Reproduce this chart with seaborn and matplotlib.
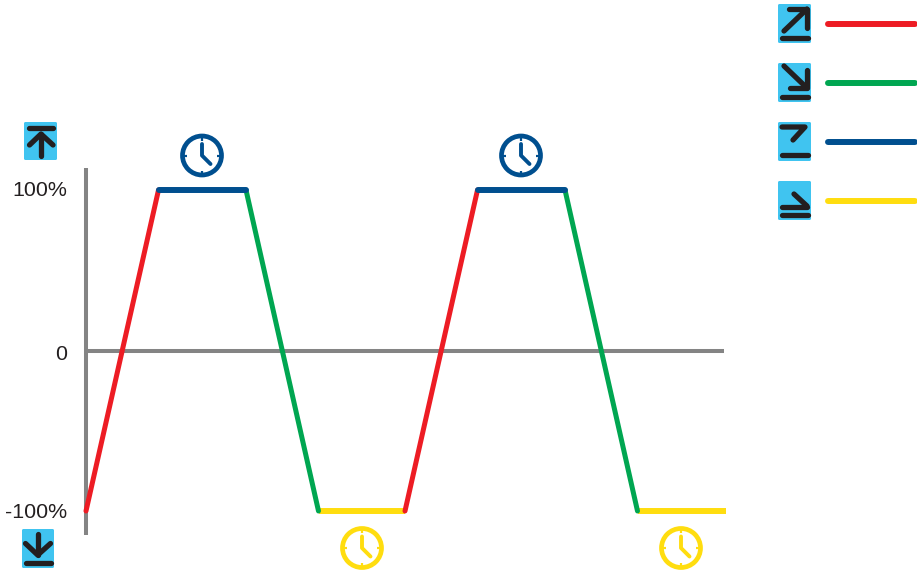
import numpy as np
import pandas as pd
import matplotlib
matplotlib.use("Agg")
import matplotlib.pyplot as plt
from matplotlib.colors import to_rgba
from matplotlib.patches import FancyBboxPatch, Circle
from matplotlib.transforms import ScaledTranslation
import seaborn as sns

# Chart data
times = [0, 72.5, 160, 232.5, 319, 391.5, 479, 551.5, 640]
levels = [-100, 100, 100, -100, -100, 100, 100, -100, -100]
phases = ["up", "hold_high", "down", "hold_low", "up", "hold_high", "down", "hold_low"]
tick_values = [-100, 0, 100]
tick_labels = ["-100%", "0", "100%"]

phase_colors = {"up": "#ed1c24", "down": "#00a651", "hold_high": "#004f8f", "hold_low": "#ffdd0f"}
legend_order = ["up", "down", "hold_high", "hold_low"]

BLACK = "#231f20"
CYAN = "#40c4f0"
GREY = "#848484"

sns.set_theme(style="white")
plt.rcParams["font.family"] = ["Liberation Sans", "DejaVu Sans"]

W, H = 917, 572
fig = plt.figure(figsize=(W / 100, H / 100), dpi=100, facecolor="white")

# main axes placed in pixels: x 86..724, y 168..535
left, right, top, bottom = 86, 724, 168, 535
ax = fig.add_axes([left / W, 1 - bottom / H, (right - left) / W, (bottom - top) / H])
ax.set_xlim(0, right - left)
ax.set_ylim(-100 - (bottom - 511) / 1.605, 100 + (190 - top) / 1.605)
ax.patch.set_alpha(0)

# one row pair per segment so each can have its own colour
rows = []
for i, ph in enumerate(phases):
    rows.append({"time": times[i], "level": levels[i], "phase": ph, "seg": i})
    rows.append({"time": times[i + 1], "level": levels[i + 1], "phase": ph, "seg": i})
df = pd.DataFrame(rows)

sns.lineplot(data=df, x="time", y="level", hue="phase", units="seg", estimator=None,
             palette=phase_colors, hue_order=legend_order, sort=False, legend=False,
             linewidth=3.6, solid_capstyle="round", zorder=3, clip_on=False, ax=ax)

# flat parts are a bit heavier; yellow sits under the green and red ends
for line in ax.get_lines():
    col = to_rgba(line.get_color())
    if col == to_rgba(phase_colors["hold_high"]):
        line.set_linewidth(4.3)
        line.set_zorder(4)
    elif col == to_rgba(phase_colors["hold_low"]):
        line.set_linewidth(4.3)
        line.set_solid_capstyle("butt")
        line.set_zorder(2.8)

sns.despine(ax=ax, top=True, right=True)
for side in ["left", "bottom"]:
    ax.spines[side].set_color(GREY)
    ax.spines[side].set_linewidth(2.9)
    ax.spines[side].set_capstyle("butt")
ax.spines["bottom"].set_position(("data", 0))
ax.set_xticks([])
ax.set_yticks(tick_values)
ax.set_yticklabels(tick_labels, fontsize=15.4, color=BLACK)
ax.tick_params(axis="y", length=0, pad=13.5)
ax.set_xlabel("")
ax.set_ylabel("")

# labels do not sit quite centred on their levels
for label, dy in zip(ax.get_yticklabels(), [1, -2, 2]):
    label.set_transform(label.get_transform() + ScaledTranslation(0, dy / 100, fig.dpi_scale_trans))

# overlay in picture pixels for the icons
ov = fig.add_axes([0, 0, 1, 1])
ov.set_xlim(0, W)
ov.set_ylim(H, 0)
ov.axis("off")
ov.patch.set_alpha(0)


def stroke(xs, ys, color=BLACK, lw=3.8, cap="round"):
    ov.plot(xs, ys, color=color, lw=lw, solid_capstyle=cap, solid_joinstyle="round")


def icon_box(x0, y0, x1, y1):
    ov.add_patch(FancyBboxPatch((x0 + 1.5, y0 + 1.5), x1 - x0 - 3, y1 - y0 - 3,
                                boxstyle="round,pad=1.5", fc=CYAN, ec="none"))


def clock(cx, cy, color):
    ov.add_patch(Circle((cx, cy), 19.5, fc="none", ec=color, lw=3.4))
    stroke([cx, cx, cx + 8.5], [cy - 11.5, cy, cy + 8.5], color=color, lw=2.8)
    for dx, dy in [(0, -1), (0, 1), (1, 0), (-1, 0)]:
        stroke([cx + dx * 18, cx + dx * 15], [cy + dy * 18, cy + dy * 15], color=color, lw=1.6, cap="butt")


# legend icons
icon_box(778, 4, 811, 43)
stroke([782, 808], [37.5, 37.5])
stroke([784, 807], [31, 9])
stroke([789, 807, 807], [9, 9, 28])

icon_box(778, 63, 811, 102)
stroke([784, 807], [66, 88])
stroke([790, 807, 807], [88, 88, 70])
stroke([782, 808], [96.5, 96.5])

icon_box(778, 122, 811, 161)
stroke([782, 805, 793], [127, 127, 140])
stroke([782, 808], [155, 155])

icon_box(778, 181, 811, 220)
stroke([794, 807], [194, 206])
stroke([782, 807], [206.5, 206.5])
stroke([782, 808], [214.5, 214.5])

# legend swatches
for y, name in zip([23.5, 82.5, 141.5, 200.5], legend_order):
    stroke([827.5, 915], [y, y], color=phase_colors[name], lw=4.3)

# axis end icons
icon_box(24, 122, 57, 160)
stroke([29, 53], [127.5, 127.5])
stroke([41, 41], [134, 156])
stroke([29.5, 41, 53], [145, 134, 145])

icon_box(22, 529, 54, 568)
stroke([37.7, 37.7], [534, 555])
stroke([25.5, 37.7, 50.5], [543.5, 555, 543.5])
stroke([25.5, 50.5], [562.5, 562.5])

# clocks
for cx, cy, name in [(202, 155.5, "hold_high"), (521, 155.5, "hold_high"),
                     (362, 548, "hold_low"), (681, 548, "hold_low")]:
    clock(cx, cy, phase_colors[name])

fig.savefig("out.png", dpi=100, facecolor="white")
